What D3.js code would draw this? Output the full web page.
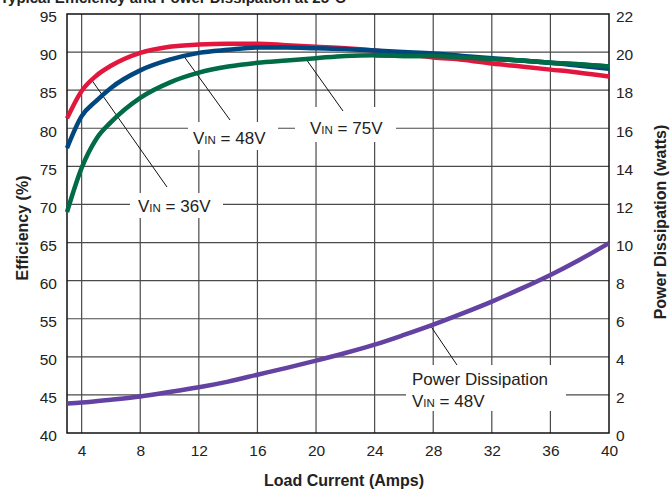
<!DOCTYPE html>
<html><head><meta charset="utf-8">
<script src="https://cdn.jsdelivr.net/npm/d3@7"></script>
<style>
body{margin:0;background:#fff}
svg{display:block}
text{font-family:"Liberation Sans",Arial,Helvetica,sans-serif}
</style>
</head><body>
<svg id="c" width="672" height="489"></svg>
<script>
// ---- data ----
const current = [3,4,5,6,8,10,12,14,16,18,20,22,24,26,28,30,32,34,36,38,40];
const eff36 = [81.3,84.9,86.9,88.2,89.9,90.7,91.0,91.1,91.1,90.9,90.7,90.5,90.2,89.8,89.3,89.0,88.5,88.1,87.7,87.3,86.8];
const eff48 = [77.4,81.6,83.6,85.3,87.6,89.0,89.9,90.3,90.6,90.6,90.5,90.4,90.2,90.0,89.8,89.5,89.2,88.9,88.6,88.2,87.8];
const eff75 = [69.0,74.8,78.6,80.8,84.0,86.0,87.3,88.1,88.6,88.9,89.2,89.5,89.6,89.5,89.5,89.3,89.1,88.9,88.6,88.4,88.1];
const powerCurrent = [3,4,6,8,10,12,14,16,18,20,22,24,26,28,30,32,34,36,38,40];
const power48 = [1.55,1.6,1.75,1.92,2.15,2.4,2.7,3.06,3.42,3.8,4.2,4.64,5.15,5.69,6.28,6.9,7.58,8.3,9.1,9.97];
const effTicks = [40,45,50,55,60,65,70,75,80,85,90,95];
const powerTicks = [0,2,4,6,8,10,12,14,16,18,20,22];
const currentTicks = [4,8,12,16,20,24,28,32,36,40];
const seriesNames = ["36V","48V","75V"];
const seriesColors = ["#e3173e","#00477f","#006b45"];
const powerColor = "#6342a2";

const svg = d3.select("#c");
const L = 67, R = 609, T = 14, B = 433;
const x = d3.scaleLinear().domain([3,40]).range([L,R]);
const yL = d3.scaleLinear().domain([40,95]).range([B,T]);
const yR = d3.scaleLinear().domain([0,22]).range([B,T]);

// cut-off title at top
svg.append("text").attr("x",0).attr("y",3).attr("font-size",15).attr("font-weight","bold")
  .attr("fill","#222").text("Typical Efficiency and Power Dissipation at 25°C");

// gridlines
const grid = svg.append("g").attr("stroke","#4a4a4a").attr("stroke-width",1.2);
grid.selectAll("line.h").data(effTicks.slice(1,-1)).join("line")
  .attr("x1",L).attr("x2",R).attr("y1",d=>yL(d)).attr("y2",d=>yL(d));
grid.selectAll("line.v").data(currentTicks.slice(0,-1)).join("line")
  .attr("y1",T).attr("y2",B).attr("x1",d=>x(d)).attr("x2",d=>x(d));

// white label boxes (knock out gridlines)
const boxes = [
  {x0:130,x1:223,y0:193,y1:218},
  {x0:188,x1:278,y0:122,y1:150},
  {x0:295,x1:396,y0:107,y1:142},
  {x0:406,x1:566,y0:365,y1:411}
];
svg.append("g").selectAll("rect").data(boxes).join("rect")
  .attr("x",d=>d.x0).attr("y",d=>d.y0).attr("width",d=>d.x1-d.x0).attr("height",d=>d.y1-d.y0)
  .attr("fill","#fff");

// border
svg.append("rect").attr("x",L).attr("y",T).attr("width",R-L).attr("height",B-T)
  .attr("fill","none").attr("stroke","#111").attr("stroke-width",1.5);

// axes labels
const axL = d3.axisLeft(yL).tickValues(effTicks).tickSize(0).tickPadding(10);
const gL = svg.append("g").attr("transform",`translate(${L},0)`).call(axL);
const axR = d3.axisRight(yR).tickValues(powerTicks).tickSize(0).tickPadding(7);
const gR = svg.append("g").attr("transform",`translate(${R},0)`).call(axR);
const axB = d3.axisBottom(x).tickValues(currentTicks).tickSize(0).tickPadding(12);
const gB = svg.append("g").attr("transform",`translate(0,${B})`).call(axB);
[gL,gR,gB].forEach(g=>{
  g.select(".domain").remove();
  g.selectAll("text").attr("font-size",15.5).attr("fill","#222")
   .attr("font-family","'Liberation Sans',Arial,sans-serif");
});
gL.selectAll("text").attr("dy","0.5em");
gR.selectAll("text").attr("dy","0.5em");

// axis titles
svg.append("text").attr("x",344).attr("y",486).attr("text-anchor","middle")
  .attr("font-size",16).attr("font-weight","bold").attr("fill","#222").text("Load Current (Amps)");
svg.append("text").attr("transform","translate(28,228) rotate(-90)").attr("text-anchor","middle")
  .attr("font-size",16).attr("font-weight","bold").attr("fill","#222").text("Efficiency (%)");
svg.append("text").attr("transform","translate(666,222) rotate(-90)").attr("text-anchor","middle")
  .attr("font-size",16).attr("font-weight","bold").attr("fill","#222").text("Power Dissipation (watts)");

// leader lines
const leaders = [
  {x1:91.7,y1:80,x2:167,y2:187},
  {x1:183,y1:55,x2:230,y2:120},
  {x1:306,y1:59,x2:343,y2:111},
  {x1:430,y1:325,x2:457,y2:365}
];
svg.append("g").selectAll("line").data(leaders).join("line")
  .attr("x1",d=>d.x1).attr("y1",d=>d.y1).attr("x2",d=>d.x2).attr("y2",d=>d.y2)
  .attr("stroke","#111").attr("stroke-width",1);

// data lines
const effSeries = [eff36, eff48, eff75];
const lineL = d3.line().x((d,i)=>x(current[i])).y(d=>yL(d)).curve(d3.curveMonotoneX);
const lineR = d3.line().x((d,i)=>x(powerCurrent[i])).y(d=>yR(d)).curve(d3.curveMonotoneX);
svg.append("path").datum(power48).attr("d",lineR).attr("fill","none")
  .attr("stroke",powerColor).attr("stroke-width",4.5).attr("stroke-linejoin","round");
// draw green, blue, red so red on top at left, green on top at right
svg.append("g").selectAll("path").data([2,0,1]).join("path")
  .attr("d",i=>lineL(effSeries[i])).attr("fill","none")
  .attr("stroke",i=>seriesColors[i]).attr("stroke-width",4.5).attr("stroke-linejoin","round");
svg.append("path").datum(eff75).attr("d",d=>lineL(d).toString()).attr("fill","none")
  .attr("stroke",seriesColors[2]).attr("stroke-width",4.5)
  .attr("clip-path","url(#rclip)");
svg.append("clipPath").attr("id","rclip").append("rect").attr("x",x(24)).attr("y",0).attr("width",R-x(24)).attr("height",489);

// labels
const labels = [
  {x:138,y:212,pre:"V",sub:"IN",post:" = 36V"},
  {x:193,y:144,pre:"V",sub:"IN",post:" = 48V"},
  {x:310,y:134,pre:"V",sub:"IN",post:" = 75V"},
  {x:412,y:407,pre:"V",sub:"IN",post:" = 48V"}
];
labels.forEach(l=>{
  const t = svg.append("text").attr("x",l.x).attr("y",l.y).attr("font-size",17).attr("fill","#222");
  t.append("tspan").text(l.pre);
  t.append("tspan").attr("font-size",11.5).text(l.sub);
  t.append("tspan").text(l.post);
});
svg.append("text").attr("x",412).attr("y",385).attr("font-size",17).attr("fill","#222").text("Power Dissipation");
</script>
</body></html>
